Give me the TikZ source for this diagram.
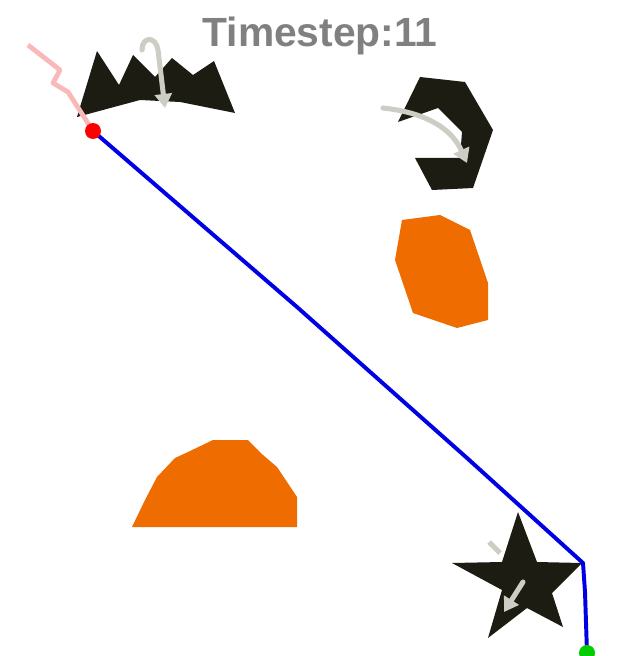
\documentclass[tikz,border=0pt]{standalone}
\usepackage{fontspec}
\setmainfont{Liberation Sans}
\usetikzlibrary{arrows.meta}

\definecolor{obsorange}{RGB}{238,108,0}
\definecolor{obsblack}{RGB}{28,28,18}
\definecolor{velgray}{RGB}{205,205,198}
\definecolor{trailpink}{RGB}{250,185,185}
\definecolor{titlegray}{RGB}{128,128,128}
\definecolor{goalgreen}{RGB}{0,205,0}

\begin{document}
\begin{tikzpicture}[x=0.025cm,y=-0.025cm,
		staticobs/.style={fill=obsorange},
		movingobs/.style={fill=obsblack},
		velarrow/.style={draw=velgray, line width=3.6pt, line cap=round,
			-{Triangle[length=10pt,width=12pt]}},
		pathline/.style={draw=blue!90!black, line width=2.8pt, line join=round}
	]
	\clip (0,0) rectangle (640,656);
	\fill[white] (0,0) rectangle (640,656);
	
	% static obstacles
	\fill[staticobs] (402,220) -- (440,215) -- (470,230) -- (488,283) -- (488,320)
		-- (457,328) -- (413,313) -- (395,260) -- cycle;
	\fill[staticobs] (132,527) -- (145,500) -- (157,477) -- (175,458) -- (188,452)
		-- (213,440) -- (248,440) -- (263,455) -- (277,467) -- (287,482)
		-- (297,497) -- (297,527) -- cycle;
	
	% moving obstacles
	\fill[movingobs] (77,117) -- (97,51) -- (119,85) -- (133,55) -- (155,77)
		-- (172,58) -- (193,75) -- (214,61) -- (235,113) -- (180,102)
		-- (140,100) -- cycle;
	\fill[movingobs] (420,77) -- (465,82) -- (493,130) -- (473,188) -- (432,190)
		-- (415,158) -- (460,158) -- (462,132) -- (438,108) -- (398,122) -- cycle;
	\fill[movingobs] (518,512) -- (537,562) -- (582,563) -- (552,593) -- (563,627)
		-- (527,608) -- (488,638) -- (502,590) -- (452,563) -- (502,562) -- cycle;
	
	% velocities
	\draw[velarrow] (142,50) .. controls (142,36) and (156,36) .. (158,50) -- (165,108);
	\draw[velarrow] (383,108) .. controls (420,112) and (450,125) .. (467,163);
	\draw[draw=velgray, line width=3.6pt] (489,542) -- (500,553);
	\draw[velarrow] (523,582) -- (504,612);
	
	% trail and planned path
	\coordinate (start) at (93,131);
	\coordinate (goal) at (587,653);
	\draw[trailpink, line width=3.4pt, line join=round] (28,45) -- (60,70) -- (53,83)
		-- (68,92) -- (start);
	\draw[pathline] (start) -- (297,307) -- (467,458) -- (583,563)
		-- (585,592) -- (goal);
	
	\fill[red] (start) circle [radius=8];
	\fill[goalgreen] (goal) circle [radius=8];
	
	\node[anchor=base, text=titlegray, font=\fontsize{29}{29}\selectfont\bfseries,
		inner sep=0pt] (title) at (320,47) {Timestep:11};
\end{tikzpicture}
\end{document}
